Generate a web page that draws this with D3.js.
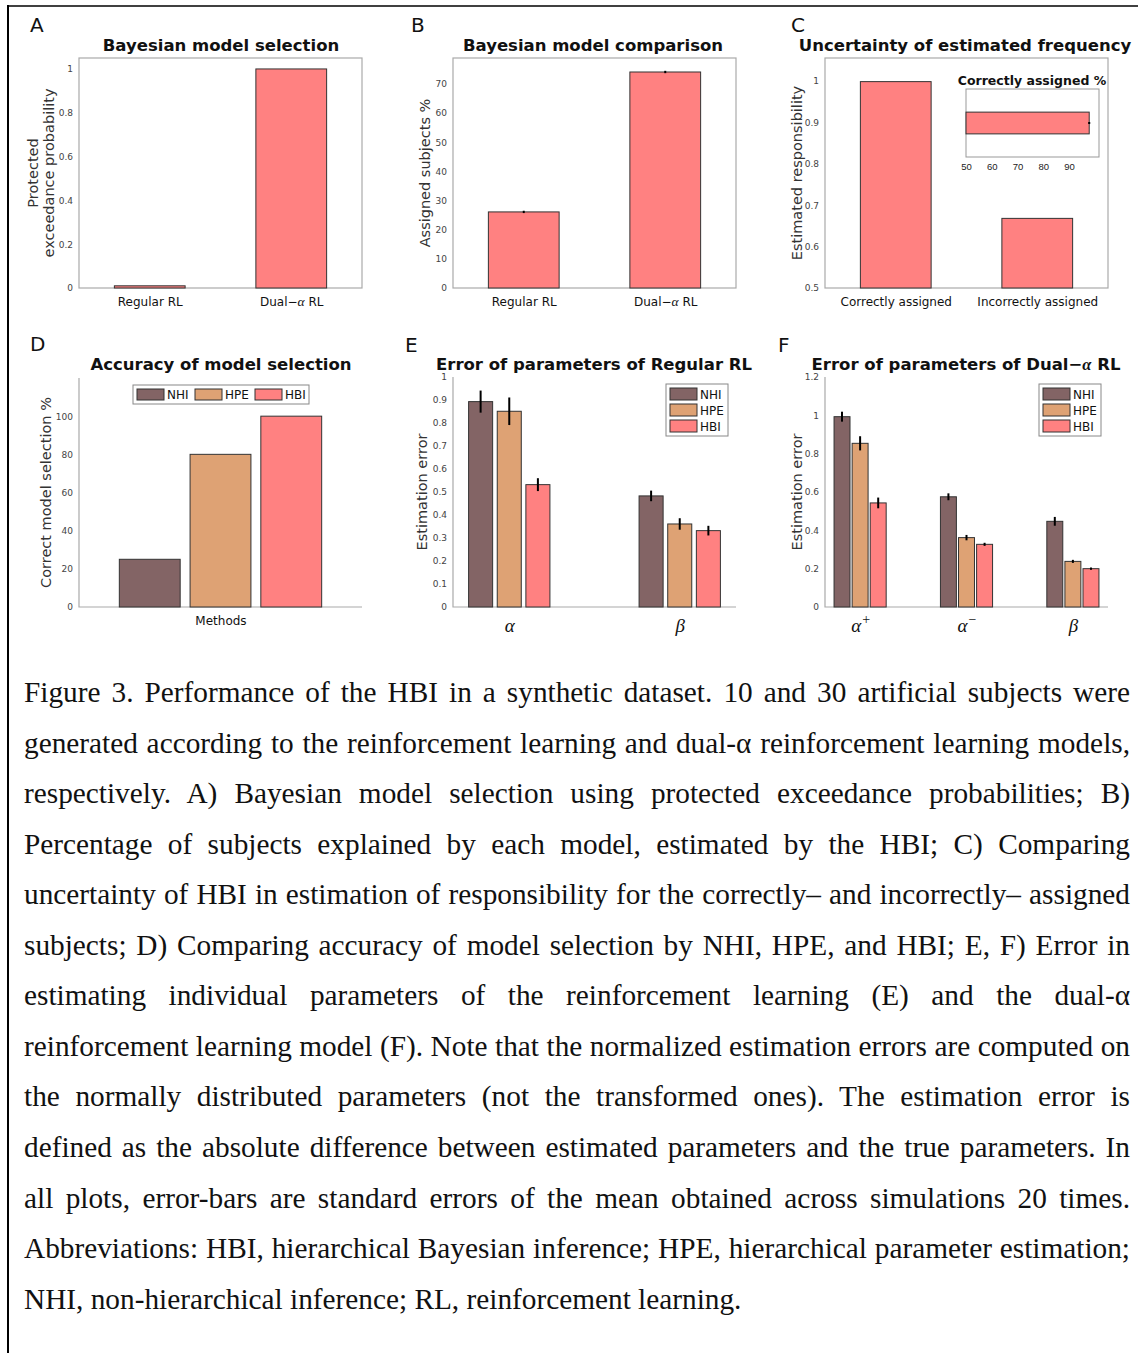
<!DOCTYPE html>
<html>
<head>
<meta charset="utf-8">
<script src="https://cdn.jsdelivr.net/npm/d3@7"></script>
<style>
  body { margin: 0; background: #fff; }
  svg { display: block; }
</style>
</head>
<body>
<svg id="fig" width="1138" height="1353"></svg>
<script>
// ---- data ----
const modelNames = ["Regular RL", "Dual-α RL"];
const pxpValues = [0.01, 1.0];
const pxpTicks = [0, 0.2, 0.4, 0.6, 0.8, 1];

const assignedValues = [26.1, 74.1];
const assignedErr = [0.4, 0.4];
const assignedTicks = [0, 10, 20, 30, 40, 50, 60, 70];

const respLabels = ["Correctly assigned", "Incorrectly assigned"];
const respValues = [0.998, 0.668];
const respTicks = [0.5, 0.6, 0.7, 0.8, 0.9, 1];

const insetValues = [97.8];
const insetErr = [0.4];
const insetTicks = [50, 60, 70, 80, 90];

const methods = ["NHI", "HPE", "HBI"];
const methodColors = ["#836465", "#dea274", "#ff8181"];
const accuracyValues = [25, 80, 100];
const accuracyTicks = [0, 20, 40, 60, 80, 100];

const regParams = ["α", "β"];
const regNHI = [0.893, 0.483];
const regHPE = [0.851, 0.361];
const regHBI = [0.532, 0.332];
const regNHIse = [0.048, 0.023];
const regHPEse = [0.060, 0.025];
const regHBIse = [0.028, 0.021];
const regTicks = [0, 0.1, 0.2, 0.3, 0.4, 0.5, 0.6, 0.7, 0.8, 0.9, 1];

const dualParams = ["α+", "α-", "β"];
const dualNHI = [0.993, 0.575, 0.447];
const dualHPE = [0.854, 0.362, 0.238];
const dualHBI = [0.543, 0.327, 0.200];
const dualNHIse = [0.026, 0.018, 0.023];
const dualHPEse = [0.037, 0.014, 0.008];
const dualHBIse = [0.028, 0.008, 0.006];
const dualTicks = [0, 0.2, 0.4, 0.6, 0.8, 1, 1.2];

const captionLines = [
  "Figure 3. Performance of the HBI in a synthetic dataset. 10 and 30 artificial subjects were",
  "generated according to the reinforcement learning and dual-α reinforcement learning models,",
  "respectively. A) Bayesian model selection using protected exceedance probabilities; B)",
  "Percentage of subjects explained by each model, estimated by the HBI; C) Comparing",
  "uncertainty of HBI in estimation of responsibility for the correctly– and incorrectly– assigned",
  "subjects; D) Comparing accuracy of model selection by NHI, HPE, and HBI; E, F) Error in",
  "estimating individual parameters of the reinforcement learning (E) and the dual-α",
  "reinforcement learning model (F). Note that the normalized estimation errors are computed on",
  "the normally distributed parameters (not the transformed ones). The estimation error is",
  "defined as the absolute difference between estimated parameters and the true parameters. In",
  "all plots, error-bars are standard errors of the mean obtained across simulations 20 times.",
  "Abbreviations: HBI, hierarchical Bayesian inference; HPE, hierarchical parameter estimation;",
  "NHI, non-hierarchical inference; RL, reinforcement learning."
];

// ---- drawing ----
const sans = "'DejaVu Sans', sans-serif";
const serif = "'Liberation Serif', 'Times New Roman', serif";
const edge = "#333";
const frameColor = "#aaa";

const svg = d3.select("#fig");

// figure border (left and top rule)
svg.append("line").attr("x1", 8).attr("x2", 8).attr("y1", 5).attr("y2", 1353)
  .attr("stroke", "#000").attr("stroke-width", 2);
svg.append("line").attr("x1", 7).attr("x2", 1138).attr("y1", 6).attr("y2", 6)
  .attr("stroke", "#000").attr("stroke-width", 1.5);

// writes a string into a text node, greek letters in italic serif
function richText(sel, str, greekSize) {
  sel.text(null);
  const parts = str.replace("-α", "−α").split(/([αβ])/);
  parts.forEach(p => {
    if (p === "") return;
    const t = sel.append("tspan").text(p);
    if (p === "α" || p === "β") {
      t.attr("font-family", serif).attr("font-style", "italic");
      if (greekSize) t.attr("font-size", greekSize);
    }
  });
}

function panel(o) {
  const g = svg.append("g");
  const x = d3.scaleLinear().domain(o.xDomain).range([o.x0, o.x1]);
  const y = d3.scaleLinear().domain(o.yDomain).range([o.y1, o.y0]);

  if (o.box) {
    g.append("rect").attr("x", o.x0).attr("y", o.y0)
      .attr("width", o.x1 - o.x0).attr("height", o.y1 - o.y0)
      .attr("fill", "none").attr("stroke", frameColor).attr("stroke-width", 1.2);
  } else {
    g.append("path").attr("d", `M${o.x0},${o.y0}V${o.y1}H${o.x1}`)
      .attr("fill", "none").attr("stroke", frameColor).attr("stroke-width", 1.2);
  }

  const yAxis = g.append("g").attr("transform", `translate(${o.x0},0)`)
    .call(d3.axisLeft(y).tickValues(o.yTicks).tickSize(0).tickPadding(6).tickFormat(d => String(d)));
  yAxis.select(".domain").remove();
  yAxis.selectAll("text").attr("font-family", sans).attr("font-size", 9).attr("fill", "#444");

  // panel letter and title
  svg.append("text").attr("x", o.lx).attr("y", o.ly).attr("font-family", sans)
    .attr("font-size", 20).attr("fill", "#111").text(o.letter);
  svg.append("text").attr("x", o.tx).attr("y", o.ty).attr("text-anchor", "middle")
    .attr("font-family", sans).attr("font-weight", "bold").attr("font-size", 16.5)
    .attr("fill", "#111").call(s => richText(s, o.title));

  // y label (one or two lines)
  const lines = o.yLabel;
  lines.forEach((ln, i) => {
    const cx = o.yLabelX + (i - (lines.length - 1) / 2) * 16;
    svg.append("text")
      .attr("transform", `translate(${cx},${(o.y0 + o.y1) / 2}) rotate(-90)`)
      .attr("text-anchor", "middle").attr("dy", "0.35em")
      .attr("font-family", sans).attr("font-size", 14.5).attr("fill", "#333").text(ln);
  });
  return { g, x, y };
}

function errBars(g, data) {
  g.selectAll(null).data(data).enter().append("line")
    .attr("x1", d => d.cx).attr("x2", d => d.cx)
    .attr("y1", d => d.yLo).attr("y2", d => d.yHi)
    .attr("stroke", "#000").attr("stroke-width", 2);
}

// ---------- Panel A ----------
{
  const p = panel({ x0: 79, x1: 362, y0: 58, y1: 288, xDomain: [0.5, 2.5], yDomain: [0, 1.05],
    yTicks: pxpTicks, box: true, letter: "A", lx: 30, ly: 32, title: "Bayesian model selection",
    tx: 221, ty: 51, yLabel: ["Protected", "exceedance probability"], yLabelX: 41 });
  p.g.selectAll(".bar").data(pxpValues).enter().append("rect")
    .attr("x", (d, i) => p.x(i + 1 - 0.25)).attr("width", p.x(1.25) - p.x(0.75))
    .attr("y", d => p.y(d)).attr("height", d => p.y(0) - p.y(d))
    .attr("fill", methodColors[2]).attr("stroke", edge).attr("stroke-width", 1);
  const xa = p.g.append("g").attr("transform", "translate(0,288)")
    .call(d3.axisBottom(p.x).tickValues([1, 2]).tickSize(0).tickPadding(9));
  xa.select(".domain").remove();
  xa.selectAll("text").attr("font-family", sans).attr("font-size", 12).attr("fill", "#111")
    .each(function (d) { richText(d3.select(this), modelNames[d - 1], 13.5); });
}

// ---------- Panel B ----------
{
  const p = panel({ x0: 453, x1: 736, y0: 58, y1: 288, xDomain: [0.5, 2.5], yDomain: [0, 78.9],
    yTicks: assignedTicks, box: true, letter: "B", lx: 411, ly: 32, title: "Bayesian model comparison",
    tx: 593, ty: 51, yLabel: ["Assigned subjects %"], yLabelX: 425 });
  p.g.selectAll(".bar").data(assignedValues).enter().append("rect")
    .attr("x", (d, i) => p.x(i + 1 - 0.25)).attr("width", p.x(1.25) - p.x(0.75))
    .attr("y", d => p.y(d)).attr("height", d => p.y(0) - p.y(d))
    .attr("fill", methodColors[2]).attr("stroke", edge).attr("stroke-width", 1);
  errBars(p.g, assignedValues.map((v, i) => ({ cx: p.x(i + 1), yLo: p.y(v - assignedErr[i]), yHi: p.y(v + assignedErr[i]) })));
  const xa = p.g.append("g").attr("transform", "translate(0,288)")
    .call(d3.axisBottom(p.x).tickValues([1, 2]).tickSize(0).tickPadding(9));
  xa.select(".domain").remove();
  xa.selectAll("text").attr("font-family", sans).attr("font-size", 12).attr("fill", "#111")
    .each(function (d) { richText(d3.select(this), modelNames[d - 1], 13.5); });
}

// ---------- Panel C ----------
{
  const p = panel({ x0: 825, x1: 1108, y0: 58, y1: 288, xDomain: [0.5, 2.5], yDomain: [0.5, 1.055],
    yTicks: respTicks, box: true, letter: "C", lx: 791, ly: 32, title: "Uncertainty of estimated frequency",
    tx: 965, ty: 51, yLabel: ["Estimated responsibility"], yLabelX: 797 });
  p.g.selectAll(".bar").data(respValues).enter().append("rect")
    .attr("x", (d, i) => p.x(i + 1 - 0.25)).attr("width", p.x(1.25) - p.x(0.75))
    .attr("y", d => p.y(d)).attr("height", d => p.y(0.5) - p.y(d))
    .attr("fill", methodColors[2]).attr("stroke", edge).attr("stroke-width", 1);
  const xa = p.g.append("g").attr("transform", "translate(0,288)")
    .call(d3.axisBottom(p.x).tickValues([1, 2]).tickSize(0).tickPadding(9).tickFormat(d => respLabels[d - 1]));
  xa.select(".domain").remove();
  xa.selectAll("text").attr("font-family", sans).attr("font-size", 12).attr("fill", "#111");

  // inset: correctly assigned %
  const ig = svg.append("g");
  const ix = d3.scaleLinear().domain([50, 101.6]).range([966, 1099]);
  const iy = d3.scaleLinear().domain([0.5, 1.5]).range([157, 89]);
  ig.append("rect").attr("x", 966).attr("y", 89).attr("width", 133).attr("height", 68)
    .attr("fill", "#fff").attr("stroke", "#999").attr("stroke-width", 1);
  ig.selectAll(".bar").data(insetValues).enter().append("rect")
    .attr("x", ix(50)).attr("width", d => ix(d) - ix(50))
    .attr("y", iy(1.16)).attr("height", iy(0.84) - iy(1.16))
    .attr("fill", methodColors[2]).attr("stroke", edge).attr("stroke-width", 1);
  ig.selectAll(".err").data(insetValues).enter().append("line")
    .attr("x1", (d, i) => ix(d - insetErr[i])).attr("x2", (d, i) => ix(d + insetErr[i]))
    .attr("y1", iy(1)).attr("y2", iy(1)).attr("stroke", "#000").attr("stroke-width", 2);
  const ia = ig.append("g").attr("transform", "translate(0,157)")
    .call(d3.axisBottom(ix).tickValues(insetTicks).tickSize(0).tickPadding(6));
  ia.select(".domain").remove();
  ia.selectAll("text").attr("font-family", "'Liberation Sans', Arial, sans-serif")
    .attr("font-size", 9.5).attr("fill", "#222");
  ig.append("text").attr("x", 1032).attr("y", 85).attr("text-anchor", "middle")
    .attr("font-family", sans).attr("font-weight", "bold").attr("font-size", 12.5)
    .attr("fill", "#111").text("Correctly assigned %");
}

// ---------- Panel D ----------
{
  const p = panel({ x0: 79, x1: 362, y0: 378, y1: 607, xDomain: [0.5, 1.5], yDomain: [0, 120],
    yTicks: accuracyTicks, box: false, letter: "D", lx: 30, ly: 351, title: "Accuracy of model selection",
    tx: 221, ty: 370, yLabel: ["Correct model selection %"], yLabelX: 46 });
  const bw = 0.215;
  p.g.selectAll(".bar").data(accuracyValues).enter().append("rect")
    .attr("x", (d, i) => p.x(1 + (i - 1) * 0.25 - bw / 2)).attr("width", p.x(1 + bw) - p.x(1))
    .attr("y", d => p.y(d)).attr("height", d => p.y(0) - p.y(d))
    .attr("fill", (d, i) => methodColors[i]).attr("stroke", edge).attr("stroke-width", 1);
  svg.append("text").attr("x", 221).attr("y", 625).attr("text-anchor", "middle")
    .attr("font-family", sans).attr("font-size", 12).attr("fill", "#111").text("Methods");

  // horizontal legend
  const lg = svg.append("g");
  lg.append("rect").attr("x", 133).attr("y", 385).attr("width", 176).attr("height", 19)
    .attr("fill", "#fff").attr("stroke", "#888").attr("stroke-width", 1);
  const swX = [137, 195, 255];
  methods.forEach((m, i) => {
    lg.append("rect").attr("x", swX[i]).attr("y", 389).attr("width", 27).attr("height", 11)
      .attr("fill", methodColors[i]).attr("stroke", edge).attr("stroke-width", 1);
    lg.append("text").attr("x", swX[i] + 30).attr("y", 399).attr("font-family", sans)
      .attr("font-size", 12).attr("fill", "#111").text(m);
  });
}

// grouped bars with error bars (panels E and F)
function groupedPanel(opt, params, means, ses, offset, bw, legendX) {
  const p = panel(opt);
  means.forEach((arr, m) => {
    p.g.selectAll(null).data(arr).enter().append("rect")
      .attr("x", (d, i) => p.x(i + 1 + (m - 1) * offset - bw / 2)).attr("width", p.x(1 + bw) - p.x(1))
      .attr("y", d => p.y(d)).attr("height", d => p.y(0) - p.y(d))
      .attr("fill", methodColors[m]).attr("stroke", edge).attr("stroke-width", 1);
  });
  means.forEach((arr, m) => {
    errBars(p.g, arr.map((v, i) => ({ cx: p.x(i + 1 + (m - 1) * offset), yLo: p.y(v - ses[m][i]), yHi: p.y(v + ses[m][i]) })));
  });
  const xa = p.g.append("g").attr("transform", `translate(0,${opt.y1})`)
    .call(d3.axisBottom(p.x).tickValues(params.map((d, i) => i + 1)).tickSize(0).tickPadding(16));
  xa.select(".domain").remove();
  xa.selectAll("text").text(null).attr("dy", "0.9em")
    .each(function (d) {
      const s = d3.select(this);
      const lab = params[d - 1];
      s.append("tspan").attr("font-family", serif).attr("font-style", "italic")
        .attr("font-size", 19).attr("fill", "#111").text(lab[0]);
      if (lab.length > 1) {
        s.append("tspan").attr("font-family", serif).attr("font-size", 14).attr("fill", "#111")
          .attr("dx", 1).attr("dy", "-0.6em").text(lab[1] === "-" ? "−" : lab[1]);
      }
    });

  // vertical legend
  const lg = svg.append("g");
  lg.append("rect").attr("x", legendX).attr("y", 384).attr("width", 62).attr("height", 52)
    .attr("fill", "#fff").attr("stroke", "#888").attr("stroke-width", 1);
  methods.forEach((m, i) => {
    lg.append("rect").attr("x", legendX + 4).attr("y", 388 + i * 16).attr("width", 27).attr("height", 12)
      .attr("fill", methodColors[i]).attr("stroke", edge).attr("stroke-width", 1);
    lg.append("text").attr("x", legendX + 34).attr("y", 399 + i * 16).attr("font-family", sans)
      .attr("font-size", 12).attr("fill", "#111").text(m);
  });
}

groupedPanel({ x0: 453, x1: 736, y0: 377, y1: 607, xDomain: [0.67, 2.33], yDomain: [0, 1],
  yTicks: regTicks, box: false, letter: "E", lx: 405, ly: 352, title: "Error of parameters of Regular RL",
  tx: 594, ty: 370, yLabel: ["Estimation error"], yLabelX: 422 },
  regParams, [regNHI, regHPE, regHBI], [regNHIse, regHPEse, regHBIse], 0.168, 0.141, 666);

groupedPanel({ x0: 825, x1: 1108, y0: 377, y1: 607, xDomain: [0.67, 3.33], yDomain: [0, 1.2],
  yTicks: dualTicks, box: false, letter: "F", lx: 778, ly: 352, title: "Error of parameters of Dual-α RL",
  tx: 966, ty: 370, yLabel: ["Estimation error"], yLabelX: 797 },
  dualParams, [dualNHI, dualHPE, dualHBI], [dualNHIse, dualHPEse, dualHBIse], 0.17, 0.15, 1039);

// ---------- caption (justified lines) ----------
const capLeft = 24, capWidth = 1106, capTop = 702, capStep = 50.55;
captionLines.forEach((ln, i) => {
  const t = svg.append("text").attr("x", capLeft).attr("y", capTop + i * capStep)
    .attr("font-family", serif).attr("font-size", 29.3).attr("fill", "#111").text(ln);
  if (i < captionLines.length - 1) {
    const natural = t.node().getComputedTextLength();
    const spaces = (ln.match(/ /g) || []).length;
    t.attr("word-spacing", (capWidth - natural) / spaces);
  }
});
</script>
</body>
</html>
